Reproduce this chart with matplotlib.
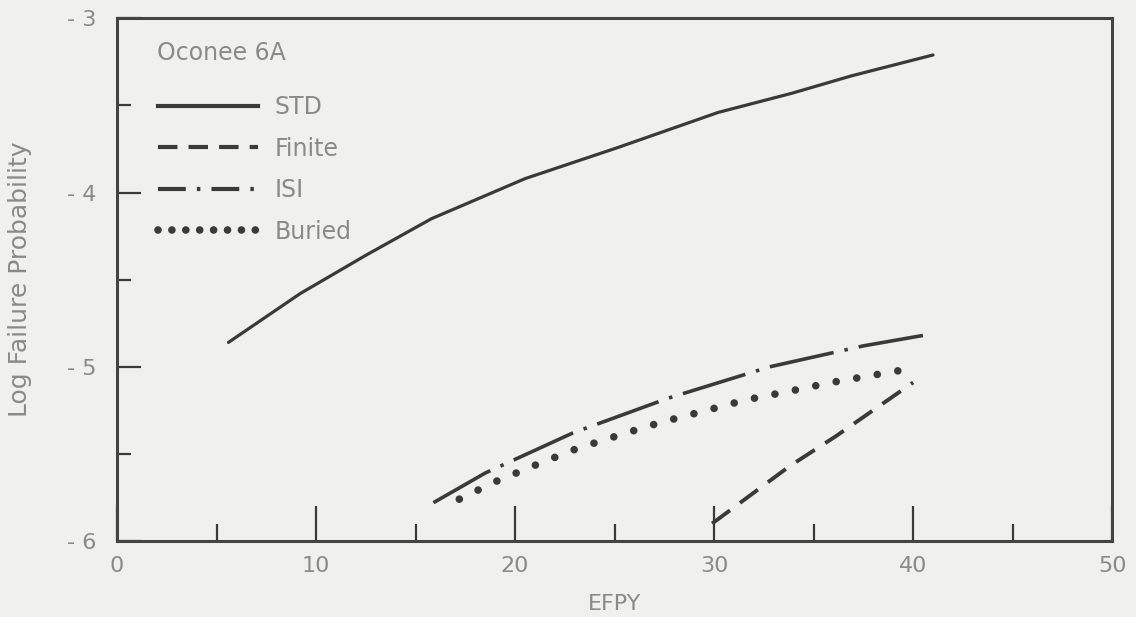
import matplotlib
matplotlib.use('Agg')
import matplotlib.pyplot as plt
from matplotlib.lines import Line2D

plt.rcParams['font.family'] = ['DejaVu Sans']
plt.rcParams['lines.scale_dashes'] = False

# values
efpy_std = [5.6, 9.2, 12.5, 15.8, 20.5, 25.2, 30.2, 33.9, 36.9, 41.0]
logp_std = [-4.86, -4.58, -4.36, -4.15, -3.92, -3.74, -3.54, -3.43, -3.33, -3.21]

efpy_finite = [29.9, 33.8, 36.1, 40.0]
logp_finite = [-5.90, -5.57, -5.40, -5.09]

efpy_isi = [15.9, 18.5, 22.9, 27.7, 32.8, 37.5, 40.5]
logp_isi = [-5.78, -5.61, -5.38, -5.18, -5.00, -4.88, -4.82]

efpy_buried = [17.2, 19.0, 20.9, 23.1, 25.3, 27.3, 29.3, 31.6, 33.8, 35.9, 38.9, 39.9]
logp_buried = [-5.76, -5.66, -5.57, -5.47, -5.39, -5.32, -5.26, -5.19, -5.14, -5.09, -5.03, -5.01]

series_names = ['STD', 'Finite', 'ISI', 'Buried']
plant = 'Oconee 6A'

xticks = [0, 10, 20, 30, 40, 50]
xticks_minor = [5, 15, 25, 35, 45]
yticks = [-6, -5, -4, -3]
yticks_minor = [-5.5, -4.5, -3.5]
ytick_labels = ['- 6', '- 5', '- 4', '- 3']

bg = '#f0f0ee'
ink = '#3a3a3a'
txt = '#8a8a8a'

fig = plt.figure(figsize=(11.36, 6.17), dpi=100, facecolor=bg)
ax = fig.add_axes([0.103, 0.1232, 0.876, 0.847])
ax.set_facecolor(bg)

# curves
ax.plot(efpy_std, logp_std, color=ink, lw=2.3, solid_capstyle='round')
ax.plot(efpy_finite, logp_finite, color=ink, lw=2.8, linestyle=(0, (16, 9)))
ax.plot(efpy_isi, logp_isi, color=ink, lw=2.6, linestyle=(0, (47, 8, 2.5, 8)))
ax.plot(efpy_buried, logp_buried, color=ink, lw=5.5, linestyle=(0, (0.01, 15)),
        dash_capstyle='round')

ax.set_xlim(0, 50)
ax.set_ylim(-6, -3)

ax.set_xticks(xticks)
ax.set_xticks(xticks_minor, minor=True)
ax.set_yticks(yticks)
ax.set_yticklabels(ytick_labels)
ax.set_yticks(yticks_minor, minor=True)

ax.tick_params(axis='x', which='major', direction='in', length=25, width=1.6,
               color=ink, pad=11, labelsize=16, labelcolor=txt)
ax.tick_params(axis='x', which='minor', direction='in', length=12, width=1.6, color=ink)
ax.tick_params(axis='y', which='major', direction='in', length=17, width=1.6,
               color=ink, pad=15, labelsize=16, labelcolor=txt)
ax.tick_params(axis='y', which='minor', direction='in', length=10, width=1.6, color=ink)

for spine in ax.spines.values():
    spine.set_linewidth(2.2)
    spine.set_color('#444444')

ax.set_xlabel('EFPY', fontsize=16, color=txt)
ax.set_ylabel('Log Failure Probability', fontsize=18, color=txt)
ax.xaxis.set_label_coords(0.5, -0.102)
ax.yaxis.set_label_coords(-0.085, 0.5)

# legend block
ax.text(0.040, 0.934, plant, transform=ax.transAxes, fontsize=17, color=txt,
        ha='left', va='center')
handles = [
    Line2D([], [], color=ink, lw=3),
    Line2D([], [], color=ink, lw=3, linestyle=(0, (14, 8))),
    Line2D([], [], color=ink, lw=3, linestyle=(0, (20, 8, 2.5, 8))),
    Line2D([], [], color=ink, lw=5.5, linestyle=(0, (0.01, 10)), dash_capstyle='round'),
]
leg = ax.legend(handles, series_names, loc='upper left', bbox_to_anchor=(0.041, 0.853),
                frameon=False, fontsize=17, handlelength=4.24, handletextpad=0.72,
                labelspacing=0.74, borderpad=0, borderaxespad=0)
for t in leg.get_texts():
    t.set_color(txt)

fig.savefig('out.png', dpi=100, facecolor=bg)
